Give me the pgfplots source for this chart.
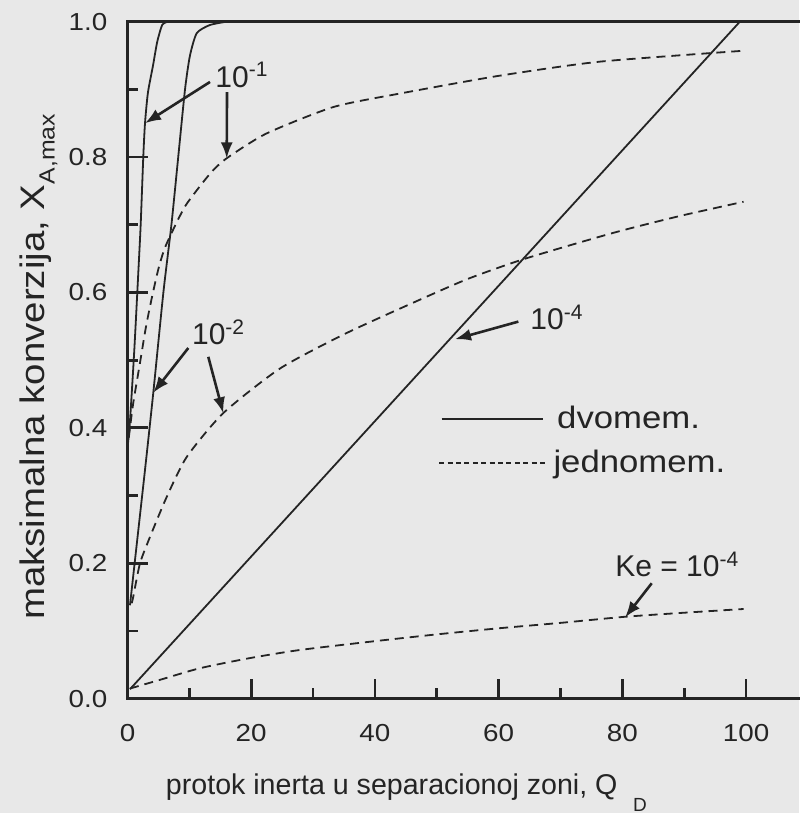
\documentclass[border=0pt]{standalone}
\usepackage{fontspec}
\setmainfont{Liberation Sans}
\usepackage{pgfplots}
\pgfplotsset{compat=1.18}
\usetikzlibrary{arrows.meta}

\definecolor{paper}{HTML}{E8E8E8}
\definecolor{ink}{HTML}{242424}

\newcommand{\lblfont}{\fontsize{14.3}{16}\selectfont}
\newcommand{\notefont}{\fontsize{15}{17}\selectfont}

\tikzset{
  solid curve/.style={ink, line width=0.9pt, smooth, tension=0.4},
  dash curve/.style={ink, line width=0.9pt, dash pattern=on 4.5pt off 3pt, smooth, tension=0.4},
  arr/.style={ink, line width=1.3pt, -{Latex[length=8pt,width=6pt]}},
  note/.style={anchor=base west, inner sep=0pt, font=\notefont, text=ink},
  legtext/.style={anchor=base west, inner sep=0pt, font=\fontsize{15.5}{17}\selectfont,
    xscale=1.12, text=ink},
}

\begin{document}
\begin{tikzpicture}
% page area (the frame is cut off on the right)
\path[use as bounding box, fill=paper] (-63.75pt,-57.15pt) rectangle (335.75pt,349.35pt);
\begin{axis}[
  scale only axis, width=340.2pt, height=338.5pt,
  xmin=0, xmax=110, ymin=0, ymax=1,
  xtick={0,20,40,60,80,100},
  ytick={0,0.2,0.4,0.6,0.8,1.0},
  minor x tick num=1, minor y tick num=1,
  tick align=inside, tick pos=left,
  major tick length=10pt, minor tick length=5.5pt,
  axis line style={line width=1.6pt, draw=ink},
  every tick/.style={line width=1.4pt, draw=ink},
  /pgf/number format/assume math mode=true,
  ticklabel style={font=\fontsize{12.3}{14}\selectfont, xscale=1.13, text=ink},
  yticklabel style={anchor=east, inner sep=0pt, xshift=-8.75pt,
    /pgf/number format/.cd, fixed, fixed zerofill, precision=1},
  xticklabel style={anchor=north, inner sep=0pt, yshift=-12.4pt,
    /pgf/number format/.cd, fixed, precision=0},
  every axis x label/.style={at={(axis description cs:0.410,-0.1415)}, anchor=base,
    font=\lblfont, text=ink},
  every axis y label/.style={at={(axis description cs:-0.122,0.49)}, rotate=90,
    anchor=base, font=\fontsize{17}{19}\selectfont, text=ink},
  xlabel={protok inerta u separacionoj zoni, Q\hspace{0.55em}\raisebox{-0.6em}{\fontsize{9.5}{10}\selectfont D}},
  ylabel={\scalebox{1.13}[1]{maksimalna konverzija, X\raisebox{-0.3em}{\fontsize{11}{12}\selectfont A,max}}},
  clip=false,
]

% dvomembranski reaktor (solid)
% Ke = 1e-1
\addplot[solid curve] coordinates {
  (0.0,0.37) (0.4,0.41) (1.1,0.515) (1.75,0.63) (2.13,0.70) (2.55,0.80)
  (2.83,0.85) (3.3,0.895) (4.12,0.935) (4.8,0.97) (5.6,0.995) (6.5,1.0)};
\addplot[ink, line width=0.9pt] coordinates {(6.5,1.0) (100,1.0)};
% Ke = 1e-2
\addplot[solid curve] coordinates {
  (0.4,0.138) (2.83,0.338) (4.17,0.452) (5.8,0.60) (7.1,0.70) (8.2,0.80)
  (9.3,0.90) (10.1,0.95) (11.2,0.983) (13.3,0.995) (16,1.0)};
\addplot[ink, line width=0.9pt] coordinates {(16,1.0) (100,1.0)};
% Ke = 1e-4
\addplot[ink, line width=0.9pt] coordinates {(0.4,0.014) (99,1.0)};

% jednomembranski reaktor (dashed)
% Ke = 1e-1
\addplot[dash curve] coordinates {
  (0.2,0.385) (0.9,0.435) (2.0,0.495) (3.0,0.55) (4.0,0.595) (5.0,0.635)
  (6.0,0.665) (7.5,0.695) (9.5,0.73) (13.3,0.775) (16.0,0.798) (22.5,0.835)
  (33.3,0.874) (44.1,0.894) (60,0.92) (76.4,0.941) (99.5,0.957)};
% Ke = 1e-2
\addplot[dash curve] coordinates {
  (0.68,0.141) (0.94,0.151) (2.02,0.20) (3.64,0.239) (6.34,0.298) (9.57,0.357)
  (15.5,0.422) (24.7,0.488) (35.4,0.540) (46.2,0.585) (55,0.620) (64.3,0.650)
  (78.5,0.688) (89.3,0.713) (99.6,0.734)};
% Ke = 1e-4
\addplot[dash curve] coordinates {
  (0.4,0.015) (5.3,0.028) (11.7,0.045) (19.8,0.06) (27.9,0.072) (40,0.085)
  (50,0.095) (60,0.104) (70,0.112) (80.4,0.121) (90,0.127) (99.6,0.1325)};

% annotations
\node[note] at (14.15,0.9035) {10\textsuperscript{-1}};
\draw[arr] (13.34,0.911) -- (2.83,0.850);
\draw[arr] (16.09,0.896) -- (16.04,0.798);

\node[note] at (10.38,0.5225) {10\textsuperscript{-2}};
\draw[arr] (9.83,0.518) -- (4.17,0.452);
\draw[arr] (13.06,0.505) -- (15.49,0.4216);

\node[note] at (65.08,0.545) {10\textsuperscript{-4}};
\draw[arr] (63.19,0.557) -- (52.95,0.531);

\node[note] at (78.8,0.18) {Ke = 10\textsuperscript{-4}};
\draw[arr] (84.75,0.1705) -- (80.44,0.120);

% legend
\draw[ink, line width=0.9pt] (50.8,0.4127) -- (67.2,0.4127);
\node[legtext] at (69.4,0.3994) {dvomem.};
\draw[ink, line width=0.9pt, dash pattern=on 2.5pt off 1.7pt] (50.4,0.3477) -- (67.5,0.3477);
\node[legtext] at (68.8,0.3348) {jednomem.};
\end{axis}
\end{tikzpicture}
\end{document}
